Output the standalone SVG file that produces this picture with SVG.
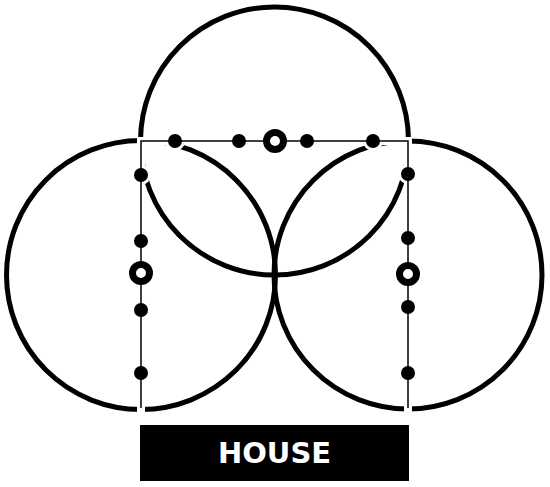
<svg xmlns="http://www.w3.org/2000/svg" width="550" height="487" viewBox="0 0 550 487">
<style>
.circ{fill:none;stroke:#000;stroke-width:5}
.halo{fill:none;stroke:#fff;stroke-width:8;stroke-linejoin:miter}
.hdot{fill:#fff}
.edge{fill:none;stroke:#000;stroke-width:1.5;stroke-linejoin:miter}
.dot{fill:#000}
.ring{fill:#fff;stroke:#000;stroke-width:7}
.lbl{font-family:"DejaVu Sans","Liberation Sans",sans-serif;font-weight:bold;font-size:29px;fill:#fff;text-anchor:middle}
</style>
<rect width="550" height="487" fill="#fff"/>
<g id="circles">
<circle id="circle-top" class="circ" cx="274.5" cy="141" r="134"/>
<circle id="circle-left" class="circ" cx="141" cy="275" r="134.5"/>
<circle id="circle-right" class="circ" cx="408" cy="275" r="134"/>
</g>
<g id="halos">
<path class="halo" d="M141,415 V141 H408 V415"/>
<g>
<circle class="hdot" cx="175" cy="141" r="10"/>
<circle class="hdot" cx="239" cy="141" r="10"/>
<circle class="hdot" cx="275" cy="141" r="15"/>
<circle class="hdot" cx="307" cy="141" r="10"/>
<circle class="hdot" cx="373" cy="141" r="10"/>
<circle class="hdot" cx="141" cy="175" r="10"/>
<circle class="hdot" cx="141" cy="241" r="10"/>
<circle class="hdot" cx="141" cy="273" r="15"/>
<circle class="hdot" cx="141" cy="310" r="10"/>
<circle class="hdot" cx="141" cy="373" r="10"/>
<circle class="hdot" cx="408" cy="174" r="10"/>
<circle class="hdot" cx="408" cy="238" r="10"/>
<circle class="hdot" cx="408" cy="274" r="15"/>
<circle class="hdot" cx="408" cy="307" r="10"/>
<circle class="hdot" cx="408" cy="373" r="10"/>
</g>
</g>
<g id="connectors">
<path class="edge" d="M141,408 V141 H408 V408"/>
</g>
<g id="dots-top">
<circle id="t1" class="dot" cx="175" cy="141" r="7"/>
<circle id="t2" class="dot" cx="239" cy="141" r="7"/>
<circle id="t3" class="ring" cx="275" cy="141" r="8.5"/>
<circle id="t4" class="dot" cx="307" cy="141" r="7"/>
<circle id="t5" class="dot" cx="373" cy="141" r="7"/>
</g>
<g id="dots-left">
<circle id="l1" class="dot" cx="141" cy="175" r="7"/>
<circle id="l2" class="dot" cx="141" cy="241" r="7"/>
<circle id="l3" class="ring" cx="141" cy="273" r="8.5"/>
<circle id="l4" class="dot" cx="141" cy="310" r="7"/>
<circle id="l5" class="dot" cx="141" cy="373" r="7"/>
</g>
<g id="dots-right">
<circle id="r1" class="dot" cx="408" cy="174" r="7"/>
<circle id="r2" class="dot" cx="408" cy="238" r="7"/>
<circle id="r3" class="ring" cx="408" cy="274" r="8.5"/>
<circle id="r4" class="dot" cx="408" cy="307" r="7"/>
<circle id="r5" class="dot" cx="408" cy="373" r="7"/>
</g>
<g id="label-house">
<rect x="140" y="425" width="269" height="56" fill="#000"/>
<text class="lbl" x="274.5" y="463">HOUSE</text>
</g>
</svg>
